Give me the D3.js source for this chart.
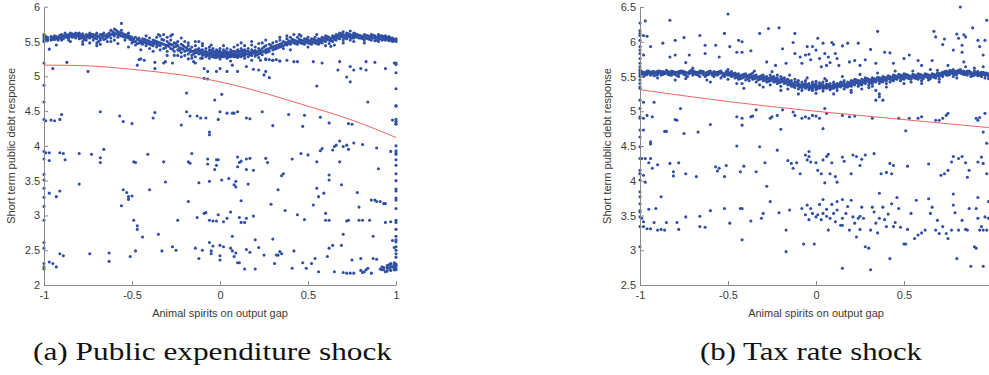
<!DOCTYPE html>
<html>
<head>
<meta charset="utf-8">
<script src="https://cdn.jsdelivr.net/npm/d3@7"></script>
<style>
  body { margin: 0; background: #fff; }
  svg { display: block; }
</style>
</head>
<body>
<div id="chart"></div>
<script>
// ---- data ----
const leftXTicks = [-1, -0.5, 0, 0.5, 1];
const rightXTicks = [-1, -0.5, 0, 0.5]; // the "1" falls outside the cropped figure
const leftYTicks = [2, 2.5, 3, 3.5, 4, 4.5, 5, 5.5, 6];
const rightYTicks = [2.5, 3, 3.5, 4, 4.5, 5, 5.5, 6, 6.5];
const xLabel = "Animal spirits on output gap";
const yLabel = "Short term public debt response";
const captions = ["(a) Public expenditure shock", "(b) Tax rate shock"];

// dense band rows: [x, y1, y2, ...]
const leftBand = [
  [-1.00, 5.52, 5.55, 5.50, 5.58, 5.60], [-0.98, 5.53, 5.51, 5.56], [-0.97, 5.39], [-0.96, 5.54, 5.52, 5.57],
  [-0.94, 5.55, 5.53, 5.58], [-0.92, 5.56, 5.54, 5.52], [-0.90, 5.57, 5.55, 5.60, 5.52], [-0.88, 5.58, 5.56, 5.62],
  [-0.86, 5.57, 5.60, 5.55, 5.52], [-0.84, 5.61, 5.58, 5.56], [-0.82, 5.62, 5.59, 5.55], [-0.80, 5.60, 5.57, 5.54, 5.62],
  [-0.78, 5.58, 5.55, 5.61, 5.50], [-0.76, 5.60, 5.56, 5.52], [-0.74, 5.58, 5.55, 5.62, 5.48], [-0.72, 5.56, 5.60, 5.52],
  [-0.70, 5.58, 5.54, 5.48, 5.62], [-0.68, 5.55, 5.52, 5.60, 5.46], [-0.66, 5.58, 5.53, 5.62], [-0.64, 5.56, 5.50, 5.60],
  [-0.62, 5.60, 5.66, 5.55], [-0.60, 5.62, 5.68, 5.58, 5.52], [-0.58, 5.64, 5.60, 5.56], [-0.56, 5.62, 5.58, 5.66, 5.76],
  [-0.54, 5.60, 5.56, 5.52], [-0.52, 5.58, 5.55, 5.62], [-0.50, 5.56, 5.52, 5.48], [-0.48, 5.56, 5.50, 5.45],
  [-0.46, 5.55, 5.48, 5.52], [-0.44, 5.50, 5.46, 5.54], [-0.42, 5.52, 5.48, 5.44], [-0.40, 5.50, 5.46, 5.55, 5.40],
  [-0.38, 5.48, 5.52, 5.44], [-0.36, 5.50, 5.46, 5.56, 5.42], [-0.34, 5.48, 5.44, 5.58, 5.38], [-0.32, 5.46, 5.52, 5.40, 5.60],
  [-0.30, 5.44, 5.50, 5.36, 5.56], [-0.28, 5.46, 5.40, 5.52, 5.58], [-0.26, 5.42, 5.48, 5.36, 5.30], [-0.24, 5.44, 5.38, 5.50, 5.30],
  [-0.22, 5.40, 5.46, 5.34, 5.28], [-0.20, 5.42, 5.36, 5.50, 5.30], [-0.18, 5.38, 5.44, 5.32, 5.48], [-0.16, 5.36, 5.42, 5.30, 5.26],
  [-0.14, 5.38, 5.34, 5.44, 5.28], [-0.12, 5.36, 5.32, 5.40, 5.50], [-0.10, 5.34, 5.30, 5.38, 5.44, 5.26], [-0.09, 5.31, 5.35],
  [-0.08, 5.32, 5.36, 5.28, 5.40], [-0.07, 5.30, 5.34], [-0.06, 5.34, 5.30, 5.38, 5.26, 5.42], [-0.05, 5.29, 5.33, 5.37],
  [-0.04, 5.32, 5.28, 5.36, 5.30, 5.40], [-0.03, 5.31, 5.35, 5.27], [-0.02, 5.30, 5.34, 5.27, 5.38, 5.32], [-0.01, 5.29, 5.33, 5.36],
  [0.00, 5.32, 5.28, 5.36, 5.30, 5.25, 5.40], [0.01, 5.31, 5.34, 5.28], [0.02, 5.30, 5.34, 5.28, 5.38, 5.32], [0.03, 5.29, 5.33, 5.36],
  [0.04, 5.32, 5.29, 5.35, 5.26, 5.40], [0.05, 5.31, 5.34, 5.28], [0.06, 5.30, 5.34, 5.28, 5.38], [0.07, 5.32, 5.29, 5.36],
  [0.08, 5.32, 5.28, 5.36, 5.30, 5.42], [0.09, 5.31, 5.35, 5.28], [0.10, 5.30, 5.34, 5.27, 5.38], [0.11, 5.32, 5.36, 5.29],
  [0.12, 5.32, 5.36, 5.28, 5.40, 5.48], [0.13, 5.33, 5.30, 5.37], [0.14, 5.34, 5.30, 5.38, 5.44], [0.15, 5.32, 5.36],
  [0.16, 5.32, 5.36, 5.28, 5.40], [0.17, 5.34, 5.31], [0.18, 5.34, 5.30, 5.38, 5.45], [0.19, 5.33, 5.36],
  [0.20, 5.33, 5.37, 5.29, 5.42], [0.22, 5.36, 5.32, 5.40, 5.47], [0.24, 5.35, 5.40, 5.31, 5.48], [0.26, 5.38, 5.44, 5.34, 5.25],
  [0.28, 5.40, 5.46, 5.36, 5.24], [0.30, 5.42, 5.38, 5.48, 5.23], [0.32, 5.44, 5.40, 5.50, 5.24], [0.34, 5.46, 5.42, 5.52, 5.22],
  [0.36, 5.44, 5.50, 5.40], [0.38, 5.48, 5.45, 5.54, 5.58], [0.40, 5.50, 5.46, 5.56], [0.42, 5.48, 5.52, 5.60],
  [0.44, 5.50, 5.56, 5.46], [0.46, 5.52, 5.48, 5.58], [0.48, 5.50, 5.54, 5.46], [0.50, 5.52, 5.48, 5.56],
  [0.52, 5.50, 5.46, 5.54], [0.54, 5.48, 5.52, 5.56], [0.56, 5.50, 5.46, 5.54], [0.58, 5.52, 5.48, 5.56],
  [0.60, 5.54, 5.50, 5.58], [0.62, 5.56, 5.52, 5.47], [0.64, 5.55, 5.58, 5.50], [0.66, 5.60, 5.56, 5.52],
  [0.68, 5.58, 5.62, 5.54], [0.70, 5.56, 5.60, 5.52, 5.64], [0.72, 5.58, 5.54, 5.62], [0.74, 5.60, 5.56, 5.52, 5.65],
  [0.76, 5.58, 5.55, 5.62], [0.78, 5.56, 5.60], [0.80, 5.58, 5.55], [0.82, 5.56, 5.60, 5.52],
  [0.84, 5.58, 5.54], [0.86, 5.56, 5.60, 5.52], [0.88, 5.58, 5.55, 5.51], [0.90, 5.57, 5.53, 5.60],
  [0.92, 5.56, 5.52, 5.58], [0.94, 5.55, 5.52, 5.58], [0.96, 5.54, 5.51, 5.57], [0.98, 5.53, 5.50, 5.55],
  [1.00, 5.52, 5.50, 5.54],
  // in-between columns of the band
  [-0.99, 5.53, 5.57], [-0.95, 5.56, 5.53], [-0.93, 5.57, 5.54], [-0.91, 5.55, 5.59], [-0.89, 5.58, 5.54],
  [-0.87, 5.59, 5.56], [-0.85, 5.58, 5.62], [-0.83, 5.60, 5.57], [-0.81, 5.58, 5.61], [-0.79, 5.59, 5.55],
  [-0.77, 5.57, 5.53], [-0.75, 5.59, 5.56], [-0.73, 5.57, 5.60], [-0.71, 5.55, 5.59], [-0.69, 5.57, 5.50],
  [-0.67, 5.56, 5.60], [-0.65, 5.54, 5.58], [-0.63, 5.58, 5.62], [-0.61, 5.64, 5.60], [-0.59, 5.66, 5.61],
  [-0.57, 5.63, 5.59], [-0.55, 5.61, 5.57], [-0.53, 5.59, 5.56], [-0.51, 5.57, 5.53], [-0.49, 5.54, 5.50],
  [-0.47, 5.53, 5.47], [-0.45, 5.51, 5.48], [-0.43, 5.53, 5.49], [-0.41, 5.51, 5.47], [-0.39, 5.49, 5.45],
  [-0.37, 5.51, 5.47], [-0.35, 5.49, 5.45], [-0.33, 5.47, 5.53], [-0.31, 5.45, 5.41], [-0.29, 5.47, 5.43],
  [-0.27, 5.45, 5.39], [-0.25, 5.43, 5.47], [-0.23, 5.41, 5.37], [-0.21, 5.39, 5.44], [-0.19, 5.37, 5.41],
  [-0.17, 5.35, 5.39], [-0.15, 5.36, 5.32], [-0.13, 5.34, 5.38], [-0.11, 5.33, 5.37],
  [0.21, 5.35, 5.31], [0.23, 5.37, 5.33], [0.25, 5.36, 5.42], [0.27, 5.39, 5.35], [0.29, 5.41, 5.44],
  [0.31, 5.43, 5.39], [0.33, 5.45, 5.41], [0.35, 5.47, 5.43], [0.37, 5.49, 5.46], [0.39, 5.51, 5.47],
  [0.41, 5.49, 5.53], [0.43, 5.51, 5.47], [0.45, 5.49, 5.53], [0.47, 5.51, 5.47], [0.49, 5.53, 5.49],
  [0.51, 5.51, 5.47], [0.53, 5.49, 5.53], [0.55, 5.51, 5.47], [0.57, 5.53, 5.49], [0.59, 5.51, 5.55],
  [0.61, 5.53, 5.57], [0.63, 5.54, 5.51], [0.65, 5.57, 5.53], [0.67, 5.59, 5.55], [0.69, 5.57, 5.61],
  [0.71, 5.59, 5.55], [0.73, 5.57, 5.61], [0.75, 5.59, 5.55], [0.77, 5.57, 5.61], [0.79, 5.59, 5.55],
  [0.81, 5.57, 5.54], [0.83, 5.59, 5.55], [0.85, 5.57, 5.53], [0.87, 5.59, 5.55], [0.89, 5.56, 5.52],
  [0.91, 5.58, 5.54], [0.93, 5.57, 5.53], [0.95, 5.56, 5.53], [0.97, 5.55, 5.52], [0.99, 5.53, 5.51],
  // columns at the bounds and the low cluster on the right
  [-1.00, 5.19, 4.87, 4.63, 4.38, 3.92, 3.81, 3.59, 3.51, 3.39, 3.26, 3.13, 2.93, 2.61, 2.53, 2.31, 2.26, 2.23],
  [1.00, 5.19, 5.17, 5.05, 4.82, 4.58, 4.57, 4.38, 4.35, 4.32, 4.00, 3.93, 3.90, 3.88, 3.80, 3.72, 3.60, 3.50, 3.38,
    3.35, 3.25, 3.22, 3.10, 2.93, 2.90, 2.80, 2.70, 2.65, 2.62, 2.55, 2.50, 2.45, 2.40, 2.30, 2.28, 2.25, 2.22],
  [0.93, 2.22, 2.25], [0.95, 2.20, 2.24, 2.28], [0.97, 2.21, 2.26, 2.30], [0.99, 2.22, 2.25, 2.28, 2.32]
];

// scattered points: [x, y]
const leftScatter = [
  [-0.99, 4.36], [-0.96, 4.37], [-0.94, 4.36], [-0.91, 4.38], [-0.90, 4.45], [-0.99, 3.90], [-0.97, 3.90], [-0.91, 3.90],
  [-0.89, 3.89], [-0.88, 3.80], [-0.97, 3.79], [-0.97, 3.32], [-0.93, 3.27], [-0.91, 3.35], [-0.97, 2.33], [-0.95, 2.31],
  [-0.93, 2.26], [-0.91, 2.45], [-0.89, 2.42], [-0.95, 5.11], [-0.87, 5.20], [-0.75, 5.07],
  [-0.80, 3.45], [-0.80, 3.89], [-0.73, 3.88], [-0.68, 3.76], [-0.68, 3.83], [-0.66, 3.95], [-0.68, 4.49], [-0.74, 2.45],
  [-0.63, 2.46], [-0.63, 2.34], [-0.57, 4.43], [-0.55, 4.35], [-0.50, 4.32], [-0.56, 3.14], [-0.55, 3.37], [-0.53, 3.33],
  [-0.52, 3.23], [-0.52, 3.27], [-0.50, 3.28], [-0.49, 3.77], [-0.48, 3.76], [-0.51, 2.41], [-0.48, 2.49], [-0.49, 2.93],
  [-0.47, 2.85], [-0.47, 2.80], [-0.44, 2.69], [-0.41, 3.88], [-0.40, 3.37], [-0.38, 4.40], [-0.37, 4.48], [-0.35, 2.73],
  [-0.33, 2.49], [-0.32, 3.77], [-0.31, 3.48], [-0.27, 2.55], [-0.25, 2.50], [-0.24, 2.93], [-0.22, 4.30], [-0.19, 4.76],
  [-0.19, 4.49], [-0.18, 3.77], [-0.17, 3.75], [-0.17, 4.43], [-0.16, 3.89], [-0.18, 3.20], [-0.14, 2.53], [-0.12, 2.38],
  [-0.13, 2.97], [-0.13, 4.43], [-0.11, 4.40], [-0.12, 3.47], [-0.10, 2.50], [-0.09, 3.03], [-0.08, 3.04], [-0.09, 4.97],
  [-0.07, 4.96], [-0.08, 4.40], [-0.07, 3.74], [-0.07, 3.81], [-0.06, 4.16], [-0.06, 4.20], [-0.06, 3.49], [-0.06, 2.61],
  [-0.05, 2.49], [-0.05, 2.45], [-0.04, 2.56], [-0.06, 2.93], [-0.04, 2.92], [-0.03, 4.66], [-0.02, 2.92], [-0.03, 3.66],
  [-0.02, 3.72], [-0.02, 3.80], [-0.01, 3.80], [-0.01, 4.38], [-0.01, 3.01], [0.00, 2.36], [0.00, 2.42], [0.00, 2.57],
  [0.01, 4.74], [0.00, 4.49], [0.01, 3.51], [0.02, 2.91], [0.02, 2.55], [0.04, 2.96], [0.05, 3.53], [0.06, 3.05],
  [0.04, 4.47], [0.07, 4.47], [0.08, 4.47], [0.10, 4.49], [0.07, 2.70], [0.08, 3.44], [0.09, 3.41], [0.09, 3.49],
  [0.06, 2.53], [0.07, 2.49], [0.09, 2.46], [0.08, 2.41], [0.10, 2.32], [0.11, 2.32], [0.10, 3.84], [0.11, 3.76],
  [0.10, 3.70], [0.12, 3.78], [0.12, 3.21], [0.11, 2.97], [0.12, 2.90], [0.14, 2.90], [0.15, 2.96], [0.15, 2.51],
  [0.14, 2.23], [0.15, 4.40], [0.15, 3.66], [0.15, 3.81], [0.16, 3.45], [0.17, 3.82], [0.17, 2.47], [0.17, 4.39],
  [0.19, 2.99], [0.19, 3.65], [0.20, 2.23], [0.20, 2.65], [0.22, 2.54], [0.24, 4.49], [0.25, 2.43], [0.26, 3.82],
  [0.27, 3.76], [0.29, 3.16], [0.30, 4.29], [0.30, 2.66], [0.31, 2.31], [0.32, 2.43], [0.33, 2.43], [0.33, 3.37],
  [0.34, 2.48], [0.35, 2.45], [0.35, 3.57], [0.36, 3.60], [0.37, 3.07], [0.39, 4.45], [0.41, 3.81], [0.41, 2.24],
  [0.42, 2.49], [0.44, 3.01], [0.46, 3.89], [0.47, 4.28], [0.48, 4.44], [0.48, 2.94], [0.47, 2.32], [0.49, 2.24],
  [0.50, 3.87], [0.52, 2.31], [0.53, 3.15], [0.54, 2.38], [0.55, 4.86], [0.55, 3.39], [0.55, 3.77], [0.56, 3.27],
  [0.56, 2.19], [0.57, 3.93], [0.57, 4.41], [0.58, 3.96], [0.59, 3.32], [0.60, 3.03], [0.60, 2.93], [0.61, 2.41],
  [0.62, 3.58], [0.62, 3.51], [0.62, 2.93], [0.62, 4.33], [0.62, 2.53], [0.64, 2.57], [0.64, 3.94], [0.65, 3.99],
  [0.65, 2.19], [0.66, 4.01], [0.68, 4.07], [0.68, 3.77], [0.69, 3.44], [0.69, 2.57], [0.70, 2.18], [0.70, 2.73],
  [0.70, 3.99], [0.72, 4.01], [0.73, 3.95], [0.72, 2.92], [0.73, 2.93], [0.72, 2.17], [0.73, 4.32], [0.74, 2.17],
  [0.75, 2.36], [0.76, 4.04], [0.76, 2.17], [0.78, 3.33], [0.79, 3.12], [0.79, 2.93], [0.80, 2.21], [0.80, 2.38],
  [0.81, 4.02], [0.81, 2.18], [0.81, 2.93], [0.82, 2.19], [0.83, 2.22], [0.84, 2.24], [0.84, 4.63], [0.85, 2.93],
  [0.86, 3.22], [0.86, 2.17], [0.87, 2.70], [0.87, 2.38], [0.88, 3.22], [0.89, 3.97], [0.89, 2.37], [0.89, 3.20],
  [0.90, 3.67], [0.91, 3.20], [0.91, 2.23], [0.92, 2.26], [0.93, 3.17], [0.94, 3.17], [0.92, 2.22], [0.94, 2.19],
  [0.94, 2.90], [0.95, 2.26], [0.96, 2.29], [0.96, 2.24], [0.97, 2.31], [0.97, 2.91], [0.98, 2.26], [0.98, 4.37],
  [0.97, 3.92], [0.98, 2.64], [0.99, 2.54], [0.99, 2.22], [0.99, 2.29], [0.99, 5.19], [1.00, 4.31],
  [0.88, 5.20], [0.94, 5.11], [0.83, 5.21], [0.83, 5.09], [0.80, 5.11], [0.76, 5.09], [0.74, 5.14], [0.74, 4.92],
  [0.72, 4.99], [0.68, 5.21], [0.67, 5.09], [0.75, 4.31], [0.53, 5.21], [0.58, 5.19], [0.63, 5.43],
  [-0.46, 5.24], [-0.45, 5.25], [-0.43, 5.23], [-0.47, 5.16], [-0.37, 5.20], [-0.37, 5.11], [-0.32, 5.19], [-0.31, 5.21],
  [-0.27, 5.19], [-0.15, 5.21], [-0.14, 5.19], [-0.11, 5.26], [-0.09, 5.11], [-0.07, 5.07], [-0.02, 5.07], [0.00, 5.11],
  [0.04, 5.07], [0.07, 5.16], [0.10, 5.07], [0.15, 5.14], [0.19, 5.10], [0.22, 5.09], [0.25, 5.02], [0.26, 5.07],
  [0.28, 4.98], [0.18, 5.23], [0.23, 5.23], [0.26, 5.24], [0.30, 5.23], [0.34, 5.22], [0.38, 5.23], [0.42, 5.21], [0.44, 5.21],
  // stray points around the band
  [-0.93, 5.45], [-0.85, 5.50], [-0.78, 5.46], [-0.70, 5.44], [-0.62, 5.50], [-0.58, 5.47], [-0.52, 5.42], [-0.45, 5.38],
  [-0.42, 5.58], [-0.38, 5.36], [-0.35, 5.60], [-0.30, 5.30], [-0.27, 5.60], [-0.22, 5.55], [-0.18, 5.25], [-0.14, 5.50],
  [-0.10, 5.47], [-0.05, 5.45], [0.02, 5.44], [0.06, 5.22], [0.10, 5.45], [0.14, 5.26], [0.18, 5.50], [0.22, 5.27],
  [0.26, 5.52], [0.30, 5.32], [0.34, 5.56], [0.40, 5.38], [0.45, 5.60], [0.50, 5.42], [0.55, 5.60], [0.60, 5.44],
  [0.65, 5.45], [0.70, 5.48], [0.76, 5.50], [0.82, 5.48], [0.90, 5.50]
];

const rightBand = [
  [-1.00, 5.55, 5.50, 5.45, 5.40, 5.52, 5.58, 5.35, 5.60], [-0.98, 5.54, 5.56, 5.50], [-0.96, 5.55, 5.53, 5.58],
  [-0.94, 5.56, 5.52, 5.54], [-0.92, 5.55, 5.57, 5.51], [-0.90, 5.56, 5.53, 5.58], [-0.88, 5.55, 5.52, 5.57],
  [-0.86, 5.56, 5.54], [-0.84, 5.57, 5.53, 5.55], [-0.82, 5.55, 5.58, 5.52], [-0.80, 5.56, 5.53],
  [-0.78, 5.57, 5.54, 5.50], [-0.76, 5.55, 5.58], [-0.74, 5.56, 5.52, 5.47], [-0.72, 5.57, 5.54],
  [-0.70, 5.55, 5.58, 5.52], [-0.68, 5.56, 5.53], [-0.66, 5.55, 5.50, 5.58], [-0.64, 5.57, 5.53],
  [-0.62, 5.56, 5.52, 5.45], [-0.60, 5.55, 5.58], [-0.58, 5.54, 5.57, 5.50], [-0.56, 5.56, 5.52],
  [-0.54, 5.55, 5.58, 5.48], [-0.52, 5.54, 5.50], [-0.50, 5.56, 5.52, 5.46], [-0.48, 5.53, 5.50, 5.57],
  [-0.46, 5.52, 5.48, 5.55], [-0.44, 5.50, 5.54, 5.46], [-0.42, 5.52, 5.48, 5.40], [-0.40, 5.50, 5.54, 5.45],
  [-0.38, 5.48, 5.52, 5.44], [-0.36, 5.50, 5.46, 5.55], [-0.34, 5.48, 5.52, 5.42], [-0.32, 5.50, 5.46, 5.38],
  [-0.30, 5.48, 5.52, 5.44], [-0.28, 5.46, 5.50, 5.42], [-0.26, 5.48, 5.44, 5.52, 5.38], [-0.24, 5.46, 5.50, 5.42],
  [-0.22, 5.48, 5.44, 5.40, 5.52], [-0.20, 5.46, 5.42, 5.50, 5.36], [-0.18, 5.44, 5.40, 5.48], [-0.16, 5.42, 5.46, 5.38, 5.32],
  [-0.14, 5.40, 5.44, 5.36], [-0.12, 5.42, 5.38, 5.46, 5.34], [-0.10, 5.40, 5.36, 5.44, 5.32], [-0.09, 5.38, 5.35],
  [-0.08, 5.38, 5.34, 5.42, 5.30], [-0.07, 5.36, 5.39], [-0.06, 5.36, 5.40, 5.33, 5.44], [-0.05, 5.35, 5.38],
  [-0.04, 5.37, 5.34, 5.40, 5.31], [-0.03, 5.36, 5.33], [-0.02, 5.36, 5.39, 5.33, 5.42, 5.30], [-0.01, 5.35, 5.38],
  [0.00, 5.37, 5.34, 5.40, 5.31, 5.43], [0.01, 5.36, 5.33], [0.02, 5.36, 5.38, 5.33, 5.41], [0.03, 5.35, 5.39],
  [0.04, 5.35, 5.38, 5.32, 5.42, 5.29], [0.05, 5.36, 5.34], [0.06, 5.36, 5.39, 5.33, 5.44], [0.07, 5.35, 5.38],
  [0.08, 5.37, 5.34, 5.40, 5.31], [0.09, 5.36, 5.33], [0.10, 5.36, 5.39, 5.33, 5.42], [0.11, 5.35, 5.38],
  [0.12, 5.37, 5.34, 5.40, 5.30], [0.13, 5.36, 5.39], [0.14, 5.38, 5.35, 5.42], [0.16, 5.40, 5.36, 5.44, 5.32],
  [0.18, 5.38, 5.42, 5.35], [0.20, 5.40, 5.44, 5.36, 5.30], [0.22, 5.42, 5.38, 5.46], [0.24, 5.40, 5.44, 5.36],
  [0.26, 5.42, 5.46, 5.38, 5.32], [0.28, 5.44, 5.40, 5.48], [0.30, 5.42, 5.46, 5.38], [0.32, 5.44, 5.48, 5.40, 5.36],
  [0.34, 5.46, 5.42, 5.30], [0.36, 5.44, 5.48, 5.40, 5.25], [0.38, 5.46, 5.42, 5.50], [0.40, 5.48, 5.44, 5.40],
  [0.42, 5.46, 5.50, 5.42], [0.44, 5.48, 5.52, 5.44], [0.46, 5.50, 5.46], [0.48, 5.48, 5.52, 5.44],
  [0.50, 5.50, 5.46, 5.54], [0.52, 5.48, 5.52], [0.54, 5.50, 5.46, 5.42], [0.56, 5.52, 5.48],
  [0.58, 5.50, 5.54, 5.46], [0.60, 5.52, 5.48, 5.40], [0.62, 5.50, 5.54], [0.64, 5.52, 5.48, 5.45],
  [0.66, 5.50, 5.54], [0.68, 5.52, 5.48], [0.70, 5.50, 5.54, 5.46], [0.72, 5.53, 5.56, 5.50],
  [0.74, 5.55, 5.52, 5.58], [0.76, 5.56, 5.53, 5.59], [0.78, 5.57, 5.54, 5.60, 5.50], [0.80, 5.56, 5.58, 5.53],
  [0.82, 5.57, 5.55, 5.60], [0.84, 5.56, 5.53, 5.58], [0.86, 5.55, 5.58, 5.52], [0.88, 5.56, 5.53, 5.50],
  [0.90, 5.55, 5.52, 5.58], [0.92, 5.54, 5.51, 5.57], [0.94, 5.53, 5.56, 5.50], [0.96, 5.52, 5.55, 5.48],
  [0.98, 5.51, 5.54, 5.47],
  // in-between columns of the band
  [-0.99, 5.54, 5.57], [-0.97, 5.56, 5.52], [-0.95, 5.55, 5.58], [-0.93, 5.54, 5.57], [-0.91, 5.56, 5.52],
  [-0.89, 5.55, 5.58], [-0.87, 5.57, 5.53], [-0.85, 5.55, 5.59], [-0.83, 5.56, 5.52], [-0.81, 5.54, 5.57],
  [-0.79, 5.56, 5.51], [-0.77, 5.55, 5.58], [-0.75, 5.57, 5.53], [-0.73, 5.55, 5.50], [-0.71, 5.56, 5.59],
  [-0.69, 5.54, 5.57], [-0.67, 5.56, 5.52], [-0.65, 5.55, 5.58], [-0.63, 5.54, 5.50], [-0.61, 5.57, 5.53],
  [-0.59, 5.55, 5.52], [-0.57, 5.56, 5.53], [-0.55, 5.54, 5.57], [-0.53, 5.55, 5.51], [-0.51, 5.53, 5.57],
  [-0.49, 5.52, 5.55], [-0.47, 5.51, 5.54], [-0.45, 5.53, 5.49], [-0.43, 5.51, 5.47], [-0.41, 5.49, 5.53],
  [-0.39, 5.51, 5.47], [-0.37, 5.49, 5.53], [-0.35, 5.47, 5.51], [-0.33, 5.49, 5.45], [-0.31, 5.47, 5.51],
  [-0.29, 5.45, 5.49], [-0.27, 5.47, 5.43], [-0.25, 5.45, 5.49], [-0.23, 5.43, 5.47], [-0.21, 5.45, 5.41],
  [-0.19, 5.43, 5.47], [-0.17, 5.41, 5.45], [-0.15, 5.39, 5.43], [-0.13, 5.40, 5.36], [-0.11, 5.38, 5.42],
  [0.15, 5.37, 5.41], [0.17, 5.39, 5.35], [0.19, 5.41, 5.37], [0.21, 5.39, 5.43], [0.23, 5.41, 5.45],
  [0.25, 5.43, 5.39], [0.27, 5.41, 5.45], [0.29, 5.43, 5.47], [0.31, 5.45, 5.41], [0.33, 5.43, 5.47],
  [0.35, 5.45, 5.49], [0.37, 5.47, 5.43], [0.39, 5.45, 5.49], [0.41, 5.47, 5.51], [0.43, 5.49, 5.45],
  [0.45, 5.47, 5.51], [0.47, 5.49, 5.53], [0.49, 5.51, 5.47], [0.51, 5.49, 5.53], [0.53, 5.51, 5.47],
  [0.55, 5.49, 5.53], [0.57, 5.51, 5.47], [0.59, 5.49, 5.53], [0.61, 5.51, 5.47], [0.63, 5.49, 5.53],
  [0.65, 5.51, 5.47], [0.67, 5.53, 5.49], [0.69, 5.51, 5.55], [0.71, 5.52, 5.55], [0.73, 5.54, 5.57],
  [0.75, 5.56, 5.52], [0.77, 5.55, 5.58], [0.79, 5.57, 5.53], [0.81, 5.56, 5.59], [0.83, 5.54, 5.57],
  [0.85, 5.56, 5.53], [0.87, 5.55, 5.58], [0.89, 5.54, 5.51], [0.91, 5.56, 5.53], [0.93, 5.55, 5.52],
  [0.95, 5.53, 5.56], [0.97, 5.52, 5.55], [0.99, 5.51, 5.54],
  // column at x = -1
  [-1.00, 6.27, 6.16, 6.12, 6.09, 6.02, 5.93, 5.88, 5.83, 5.76, 5.69, 5.64, 5.33, 5.16, 5.04, 4.92, 4.90, 4.73,
    4.63, 4.49, 4.32, 4.15, 4.10, 4.01, 3.84, 3.77, 3.67, 3.55, 3.48, 3.34, 3.05]
];

const rightScatter = [
  // above the band
  [-0.97, 6.30], [-0.83, 6.31], [-0.98, 6.09], [-0.96, 6.08], [-0.94, 5.93], [-0.98, 5.81], [-0.87, 5.98], [-0.80, 6.02],
  [-0.80, 5.81], [-0.75, 6.06], [-0.74, 5.70], [-0.66, 6.09], [-0.63, 5.95], [-0.63, 5.83], [-0.72, 5.81], [-0.83, 5.78],
  [-0.57, 5.95], [-0.55, 5.78], [-0.52, 6.12], [-0.50, 6.40], [-0.49, 5.93], [-0.45, 5.85], [-0.44, 6.02], [-0.42, 6.00],
  [-0.42, 5.85], [-0.37, 5.87], [-0.32, 6.12], [-0.28, 5.71], [-0.27, 6.19], [-0.23, 5.66], [-0.21, 6.20], [-0.19, 5.90],
  [-0.17, 5.69], [-0.13, 5.99], [-0.12, 6.12], [-0.12, 5.83], [-0.09, 5.78], [-0.08, 5.69], [-0.06, 5.81], [-0.05, 5.93],
  [-0.04, 5.82], [-0.03, 5.74], [-0.02, 5.93], [0.00, 5.88], [0.01, 6.05], [0.02, 5.76], [0.03, 5.64], [0.04, 5.98],
  [0.05, 5.83], [0.07, 5.78], [0.06, 5.66], [0.08, 5.70], [0.09, 5.99], [0.10, 5.96], [0.11, 5.83], [0.12, 5.76],
  [0.13, 5.66], [0.15, 5.94], [0.18, 5.98], [0.19, 5.71], [0.22, 5.73], [0.25, 5.66], [0.24, 5.98], [0.28, 5.74],
  [0.31, 5.89], [0.35, 6.15], [0.34, 5.69], [0.39, 5.85], [0.42, 5.84], [0.44, 5.69], [0.50, 5.76], [0.53, 5.81],
  [0.58, 5.73], [0.60, 5.66], [0.67, 6.15], [0.68, 6.07], [0.66, 5.73], [0.72, 5.96], [0.73, 6.04], [0.69, 5.59],
  [0.75, 5.66], [0.78, 5.88], [0.80, 6.11], [0.81, 6.05], [0.82, 6.50], [0.83, 5.95], [0.84, 6.10], [0.85, 6.07],
  [0.83, 5.85], [0.84, 5.71], [0.85, 5.64], [0.89, 6.20], [0.92, 6.02], [0.93, 5.93], [0.95, 5.81], [0.96, 6.02],
  [0.97, 6.31], [0.95, 5.64],
  // stray points around the band
  [-0.90, 5.48], [-0.80, 5.45], [-0.70, 5.62], [-0.60, 5.42], [-0.50, 5.60], [-0.45, 5.40], [-0.35, 5.58], [-0.30, 5.35],
  [-0.25, 5.57], [-0.20, 5.30], [-0.15, 5.52], [-0.10, 5.25], [-0.05, 5.48], [0.00, 5.26], [0.05, 5.47], [0.10, 5.25],
  [0.15, 5.50], [0.20, 5.27], [0.25, 5.53], [0.30, 5.34], [0.35, 5.55], [0.40, 5.35], [0.45, 5.58], [0.50, 5.40],
  [0.55, 5.58], [0.60, 5.44], [0.65, 5.60], [0.70, 5.42], [0.80, 5.48], [0.90, 5.62],
  // around 4.6 - 5.2
  [-0.98, 5.13], [-0.98, 4.90], [-0.96, 4.94], [-0.93, 4.92], [-0.92, 5.13], [-0.98, 4.73], [-0.86, 4.71], [-0.85, 4.71],
  [-0.80, 4.88], [-0.79, 4.87], [-0.77, 5.04], [-0.75, 4.68], [-0.67, 4.70], [-0.60, 4.81], [-0.45, 4.92], [-0.42, 4.80],
  [-0.42, 4.90], [-0.41, 5.33], [-0.37, 4.92], [-0.36, 4.93], [-0.34, 5.02], [-0.26, 4.90], [-0.25, 4.92], [-0.22, 4.94],
  [-0.20, 4.74], [-0.19, 5.02], [-0.13, 4.99], [-0.12, 4.94], [-0.08, 4.90], [-0.06, 4.92], [-0.04, 4.90], [-0.02, 4.94],
  [0.00, 4.93], [0.02, 4.90], [0.04, 4.75], [0.05, 5.04], [0.06, 4.97], [0.15, 4.94], [0.19, 4.92], [0.22, 4.93],
  [0.32, 4.90], [0.34, 5.16], [0.36, 5.21], [0.38, 5.16], [0.47, 4.90], [0.51, 4.72], [0.53, 4.90], [0.58, 4.90],
  [0.60, 4.92], [0.68, 4.87], [0.70, 4.87], [0.72, 4.90], [0.74, 4.94], [0.75, 4.97], [0.91, 4.90], [0.92, 4.87],
  [0.93, 4.91], [0.95, 4.70], [0.96, 4.97], [0.97, 4.54],
  // around 4.0 - 4.5
  [-0.99, 4.32], [-0.97, 4.32], [-0.94, 4.32], [-0.95, 4.26], [-1.00, 4.10], [-0.98, 4.08], [-0.97, 3.98], [-0.93, 4.18],
  [-0.90, 4.23], [-0.94, 4.53], [-0.94, 4.56], [-0.83, 4.25], [-0.81, 4.13], [-0.78, 4.26], [-0.81, 4.07], [-0.74, 4.10],
  [-0.68, 4.06], [-0.57, 4.20], [-0.56, 4.14], [-0.55, 4.18], [-0.52, 4.06], [-0.51, 4.22], [-0.45, 4.50], [-0.43, 4.13],
  [-0.41, 4.21], [-0.42, 3.60], [-0.34, 4.13], [-0.32, 4.49], [-0.29, 4.26], [-0.28, 3.92], [-0.26, 3.70], [-0.22, 4.44],
  [-0.21, 3.54], [-0.16, 4.29], [-0.14, 4.25], [-0.13, 4.18], [-0.11, 4.26], [-0.09, 4.10], [-0.06, 4.37], [-0.05, 4.30],
  [-0.04, 4.35], [-0.03, 4.27], [-0.04, 4.42], [0.00, 4.26], [0.01, 4.15], [0.03, 4.10], [0.04, 4.30], [0.05, 3.97],
  [0.06, 4.35], [0.07, 4.38], [0.08, 4.10], [0.09, 4.26], [0.11, 4.06], [0.12, 3.98], [0.15, 4.34], [0.16, 4.28],
  [0.20, 4.10], [0.21, 4.37], [0.23, 4.35], [0.25, 4.22], [0.26, 4.31], [0.28, 4.37], [0.33, 4.39], [0.36, 3.82],
  [0.37, 4.10], [0.40, 4.12], [0.42, 4.25], [0.43, 4.10], [0.44, 4.22], [0.52, 4.21], [0.64, 4.24], [0.71, 4.08],
  [0.73, 4.10], [0.75, 4.15], [0.77, 4.27], [0.78, 4.35], [0.81, 4.32], [0.83, 4.35], [0.85, 4.26], [0.86, 4.05],
  [0.87, 4.15], [0.92, 4.27], [0.94, 4.34], [0.95, 4.25], [0.97, 4.10],
  // around 3.3 - 3.6 and below
  [-1.00, 3.57], [-0.99, 3.46], [-0.98, 3.41], [-0.98, 3.34], [-0.96, 3.31], [-0.95, 3.59], [-0.94, 3.31], [-0.92, 3.40],
  [-0.91, 3.60], [-0.90, 3.29], [-0.88, 3.77], [-0.88, 3.30], [-0.86, 3.29], [-0.85, 3.40], [-0.79, 3.40], [-0.78, 3.30],
  [-0.74, 3.48], [-0.66, 3.49], [-0.66, 3.34], [-0.63, 3.33], [-0.60, 3.57], [-0.52, 3.60], [-0.49, 3.39], [-0.43, 3.60],
  [-0.42, 3.15], [-0.37, 3.42], [-0.31, 3.46], [-0.30, 3.53], [-0.17, 2.98], [-0.17, 3.29], [-0.15, 3.58], [-0.08, 3.60],
  [-0.07, 3.09], [-0.06, 3.51], [-0.05, 3.65], [-0.04, 3.44], [-0.03, 3.60], [-0.02, 3.53], [-0.01, 3.09], [0.00, 3.48],
  [0.01, 3.51], [0.02, 3.66], [0.03, 3.44], [0.04, 3.53], [0.04, 3.73], [0.06, 3.49], [0.06, 3.59], [0.07, 3.29],
  [0.08, 3.46], [0.09, 3.66], [0.10, 3.53], [0.11, 3.41], [0.12, 3.70], [0.12, 3.58], [0.14, 3.36], [0.15, 3.73],
  [0.15, 3.46], [0.15, 3.36], [0.17, 3.53], [0.18, 3.63], [0.19, 3.29], [0.20, 3.72], [0.21, 3.48], [0.22, 3.39],
  [0.23, 3.19], [0.24, 3.46], [0.25, 3.49], [0.25, 3.30], [0.26, 3.62], [0.27, 3.46], [0.28, 3.05], [0.30, 3.03],
  [0.31, 3.29], [0.32, 3.62], [0.33, 3.55], [0.34, 3.39], [0.35, 3.25], [0.36, 3.46], [0.38, 3.62], [0.39, 3.44],
  [0.40, 3.34], [0.41, 3.52], [0.42, 2.88], [0.43, 3.67], [0.44, 3.34], [0.45, 3.40], [0.46, 3.76], [0.47, 3.60],
  [0.48, 3.33], [0.50, 3.09], [0.51, 3.09], [0.52, 3.30], [0.54, 3.53], [0.56, 3.17], [0.57, 3.72], [0.58, 3.22],
  [0.60, 3.25], [0.62, 3.29], [0.64, 3.74], [0.65, 3.53], [0.66, 3.62], [0.68, 3.29], [0.69, 3.43], [0.70, 3.24],
  [0.72, 3.34], [0.74, 3.24], [0.75, 3.17], [0.77, 3.29], [0.78, 3.81], [0.78, 3.65], [0.79, 3.54], [0.80, 2.88],
  [0.81, 3.29], [0.83, 3.43], [0.85, 3.30], [0.86, 3.29], [0.87, 3.60], [0.88, 2.77], [0.90, 3.05], [0.91, 3.03],
  [0.91, 3.60], [0.92, 3.76], [0.92, 3.46], [0.93, 3.29], [0.94, 3.34], [0.95, 2.77], [0.95, 3.29], [0.96, 3.48],
  [0.97, 3.29], [0.98, 3.46], [0.98, 3.70], [0.15, 2.74], [0.31, 2.72]
];

// fitted curves
const leftFitX = [-1, -0.75, -0.5, -0.25, 0, 0.25, 0.5, 0.75, 1];
const leftFitY = [5.16, 5.15, 5.10, 5.03, 4.92, 4.76, 4.57, 4.37, 4.12];
const rightFitX = [-1, -0.5, 0, 0.5, 1];
const rightFitY = [5.31, 5.14, 5.00, 4.88, 4.76];

// ---- drawing ----
const width = 989, height = 375;
const dotColor = "#2f4fa3";
const fitColor = "#f26464";
const axisColor = "#8a8a8a";
const textColor = "#3a3a3a";
const sansFont = "'Liberation Sans', Arial, sans-serif";

const svg = d3.select("#chart").append("svg")
  .attr("width", width)
  .attr("height", height);

function flatten(band, scatter) {
  const pts = [];
  band.forEach(row => row.slice(1).forEach(y => pts.push([row[0], y])));
  return pts.concat(scatter);
}

function drawPanel(p) {
  const x = d3.scaleLinear().domain([-1, 1]).range([p.left, p.right]);
  const y = d3.scaleLinear().domain(p.yDomain).range([p.bottom, p.top]);
  const g = svg.append("g");

  // points
  g.append("g")
    .selectAll("circle")
    .data(flatten(p.band, p.scatter))
    .enter().append("circle")
    .attr("cx", d => x(d[0]))
    .attr("cy", d => y(d[1]))
    .attr("r", 1.55)
    .attr("fill", dotColor);

  // fitted curve
  const line = d3.line()
    .x(d => x(d[0]))
    .y(d => y(d[1]))
    .curve(d3.curveNatural);
  g.append("path")
    .datum(p.fitX.map((v, i) => [v, p.fitY[i]]))
    .attr("d", line)
    .attr("fill", "none")
    .attr("stroke", fitColor)
    .attr("stroke-width", 1);

  // axes, inward ticks like MATLAB
  const xAxis = g.append("g")
    .attr("transform", `translate(0,${p.bottom})`)
    .call(d3.axisBottom(x).tickValues(p.xTicks).tickSizeInner(-4).tickSizeOuter(0)
      .tickPadding(6).tickFormat(d => String(d)));
  const yAxis = g.append("g")
    .attr("transform", `translate(${p.left},0)`)
    .call(d3.axisLeft(y).tickValues(p.yTicks).tickSizeInner(-4).tickSizeOuter(0)
      .tickPadding(4).tickFormat(d => String(d)));

  [xAxis, yAxis].forEach(a => {
    a.select(".domain").attr("stroke", axisColor);
    a.selectAll(".tick line").attr("stroke", axisColor);
    a.selectAll(".tick text")
      .attr("fill", textColor)
      .style("font-family", sansFont)
      .style("font-size", "11px");
  });

  // axis titles
  g.append("text")
    .attr("x", (p.left + p.right) / 2)
    .attr("y", p.bottom + 32)
    .attr("text-anchor", "middle")
    .attr("fill", textColor)
    .style("font-family", sansFont)
    .style("font-size", "11px")
    .text(xLabel);
  g.append("text")
    .attr("transform", `translate(${p.left - 29},${(p.top + p.bottom) / 2}) rotate(-90)`)
    .attr("text-anchor", "middle")
    .attr("fill", textColor)
    .style("font-family", sansFont)
    .style("font-size", "11px")
    .text(yLabel);

  // caption under the panel (LaTeX-like, stretched to the original width)
  svg.append("text")
    .attr("x", p.captionX)
    .attr("y", 360)
    .attr("fill", "#111")
    .attr("textLength", p.captionWidth)
    .attr("lengthAdjust", "spacingAndGlyphs")
    .style("font-family", "'Liberation Serif', 'Times New Roman', serif")
    .style("font-size", "26px")
    .text(p.caption);
}

drawPanel({
  left: 44, right: 396, top: 6.7, bottom: 285,
  yDomain: [2, 6], yTicks: leftYTicks, xTicks: leftXTicks,
  band: leftBand, scatter: leftScatter,
  fitX: leftFitX, fitY: leftFitY,
  caption: captions[0], captionX: 33, captionWidth: 359
});

drawPanel({
  left: 640, right: 992, top: 7, bottom: 285,
  yDomain: [2.5, 6.5], yTicks: rightYTicks, xTicks: rightXTicks,
  band: rightBand, scatter: rightScatter,
  fitX: rightFitX, fitY: rightFitY,
  caption: captions[1], captionX: 700, captionWidth: 222
});
</script>
</body>
</html>
